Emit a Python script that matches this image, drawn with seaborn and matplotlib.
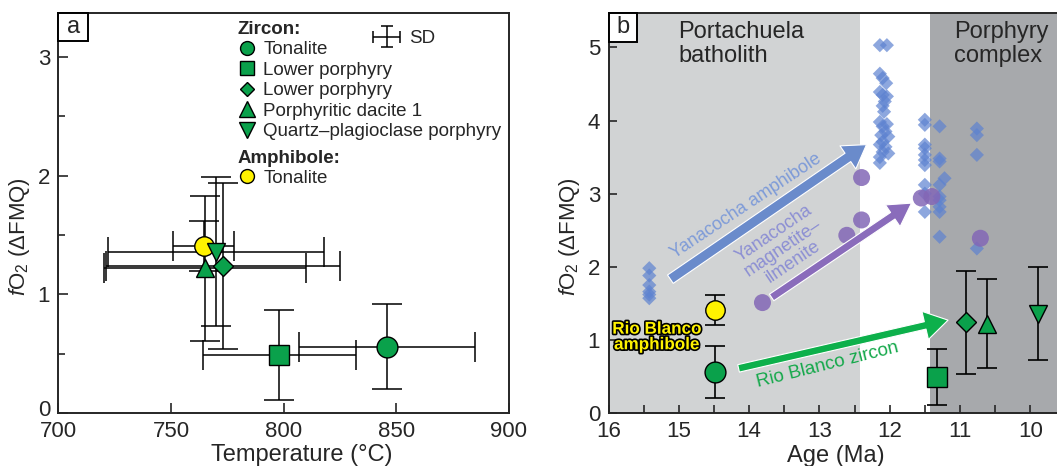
import numpy as np
import matplotlib
matplotlib.use("Agg")
import matplotlib.pyplot as plt
import matplotlib.transforms as mtransforms
import seaborn as sns
import pandas as pd
from matplotlib.patches import Rectangle
from matplotlib.lines import Line2D
from matplotlib.container import ErrorbarContainer
from matplotlib.legend_handler import HandlerErrorbar
import matplotlib.patheffects as pe

# ---------------- data ----------------
# Rio Blanco samples (zircon x5, amphibole x1)
sample_labels = ["Tonalite", "Lower porphyry", "Lower porphyry", "Porphyritic dacite 1",
                 "Quartz\u2013plagioclase porphyry", "Tonalite"]
temp_c = [846, 798, 773, 765, 770, 764.5]
temp_sd = [39, 34, 52, 45, 48, 13.5]
fo2 = [0.56, 0.49, 1.24, 1.22, 1.36, 1.41]
fo2_sd = [0.36, 0.38, 0.70, 0.61, 0.63, 0.21]
age_ma = [14.49, 11.32, 10.91, 10.61, 9.89, 14.49]

# Yanacocha amphibole (diamonds)
yan_amph_age = [15.42, 15.42, 15.42, 15.42, 15.42, 15.42,
                12.14, 12.04, 12.14, 12.10, 12.05, 12.14, 12.10, 12.04, 12.07, 12.10,
                12.08, 12.14, 12.04, 12.10, 12.06, 12.12, 12.02, 12.10, 12.14, 12.06,
                12.10, 12.02, 12.14, 12.14,
                11.50, 11.50, 11.50, 11.50, 11.50, 11.50, 11.50, 11.50, 11.50, 11.50,
                11.29, 11.29, 11.29, 11.22, 11.29, 11.29, 11.29, 11.29, 11.29, 11.29,
                10.76, 10.76, 10.76, 10.76]
yan_amph_fo2 = [1.98, 1.88, 1.75, 1.66, 1.62, 1.57,
                5.03, 5.03, 4.64, 4.58, 4.51, 4.39, 4.35, 4.33, 4.26, 4.20,
                4.12, 3.98, 3.95, 3.92, 3.85, 3.80, 3.78, 3.71, 3.67, 3.64,
                3.57, 3.55, 3.50, 3.42,
                4.01, 3.94, 3.67, 3.62, 3.53, 3.46, 3.39, 3.12, 3.00, 2.75,
                3.92, 3.48, 3.44, 3.21, 3.12, 2.96, 2.91, 2.82, 2.75, 2.41,
                3.89, 3.80, 3.53, 2.25]

# Yanacocha magnetite-ilmenite (circles)
yan_mi_age = [13.81, 12.61, 12.40, 12.40, 11.55, 11.40, 10.71]
yan_mi_fo2 = [1.51, 2.43, 2.64, 3.22, 2.94, 2.96, 2.39]

# trend arrows (tail age, tail fO2, tip age, tip fO2)
arrow_yan_amph = (15.12, 1.83, 12.33, 3.67)
arrow_yan_mi = (13.68, 1.58, 11.69, 2.87)
arrow_rb_zircon = (14.15, 0.61, 11.17, 1.27)

# age windows
batholith_span = (16.0, 12.42)
porphyry_span = (11.42, 9.0)

# ---------------- style ----------------
sns.set_theme(style="ticks")
plt.rcParams["font.family"] = ["Liberation Sans", "DejaVu Sans"]
plt.rcParams["mathtext.fontset"] = "custom"
plt.rcParams["mathtext.rm"] = "Liberation Sans"
plt.rcParams["mathtext.it"] = "Liberation Sans:italic"
plt.rcParams["axes.linewidth"] = 1.4

GREEN = "#0aa14b"
YELLOW = "#fff200"
markers = ["o", "s", "D", "^", "v", "o"]
msizes = [15, 14.5, 10.5, 13, 13, 14]
fills = [GREEN] * 5 + [YELLOW]

fig = plt.figure(figsize=(10.57, 4.66), dpi=100)
ax1 = fig.add_axes([0.0553, 0.1137, 0.4262, 0.8584])
ax2 = fig.add_axes([0.5757, 0.1137, 0.4243, 0.8584])

ylab = r"$f$O$_2$ ($\Delta$FMQ)"
TICK_FS = 16
LABEL_FS = 17

# ---------------- panel a ----------------
for i in range(len(temp_c)):
    ax1.errorbar(temp_c[i], fo2[i], xerr=temp_sd[i], yerr=fo2_sd[i], fmt="none",
                 ecolor="black", elinewidth=1.1, capsize=10.5, capthick=1.1, zorder=2)
order_a = [0, 1, 5, 3, 4, 2]
for i in order_a:
    ax1.plot(temp_c[i], fo2[i], marker=markers[i], ms=msizes[i], mfc=fills[i],
             mec="black", mew=1.0, ls="none", zorder=3)

ax1.set_xlim(700, 900)
ax1.set_ylim(0, 3.37)
ax1.set_xticks([700, 750, 800, 850, 900])
ax1.set_yticks([0, 1, 2, 3])
ax1.set_yticks([0.5, 1.5, 2.5], minor=True)
ax1.tick_params(axis="both", which="major", direction="in", length=7, width=1.2,
                labelsize=TICK_FS, pad=6, top=False, right=False)
ax1.tick_params(axis="y", which="minor", direction="in", length=5, width=1.2)
ax1.set_xlabel("Temperature (\u00b0C)", fontsize=LABEL_FS)
ax1.set_ylabel(ylab, fontsize=TICK_FS)
ax1.xaxis.set_label_coords(0.54, -0.078)
ax1.yaxis.set_label_coords(-0.058, 0.44)
# the "0" label sits slightly above the corner, as in the original
zero_lbl = ax1.get_yticklabels()[0]
zero_lbl.set_transform(zero_lbl.get_transform() +
                       mtransforms.ScaledTranslation(0, 5 / 100, fig.dpi_scale_trans))

ax1.add_patch(Rectangle((0, 1), 0.0666, -0.07, transform=ax1.transAxes, fc="white",
                        ec="black", lw=1.4, zorder=5, clip_on=False))
ax1.text(0.0333, 1 - 0.035, "a", transform=ax1.transAxes, ha="center", va="center",
         fontsize=17, zorder=6)

# legends
LEG_FS = 13.5
leg_ms = [10, 10, 7.2, 11, 11]
zircon_handles = [Line2D([], [], marker=markers[i], ls="none", ms=leg_ms[i], mfc=GREEN,
                         mec="black", mew=1.0) for i in range(5)]
leg1 = ax1.legend(zircon_handles, sample_labels[:5], title="Zircon:", loc="upper left",
                  bbox_to_anchor=(0.39, 0.99), frameon=False, fontsize=LEG_FS,
                  title_fontproperties={"weight": "bold", "size": LEG_FS},
                  alignment="left", handlelength=0.95, handletextpad=0.4,
                  labelspacing=0.18, borderpad=0.2, borderaxespad=0)
ax1.add_artist(leg1)
amph_handle = Line2D([], [], marker="o", ls="none", ms=10, mfc=YELLOW, mec="black", mew=1.0)
leg2 = ax1.legend([amph_handle], [sample_labels[5]], title="Amphibole:", loc="upper left",
                  bbox_to_anchor=(0.39, 0.668), frameon=False, fontsize=LEG_FS,
                  title_fontproperties={"weight": "bold", "size": LEG_FS},
                  alignment="left", handlelength=0.95, handletextpad=0.4,
                  labelspacing=0.18, borderpad=0.2, borderaxespad=0)
ax1.add_artist(leg2)
sd = ax1.errorbar([np.nan], [np.nan], xerr=[1], yerr=[1], fmt="none", ecolor="black",
                  elinewidth=1.1, capsize=4, capthick=1.1)
leg3 = ax1.legend([sd], ["SD"], loc="upper left", bbox_to_anchor=(0.69, 0.967),
                  frameon=False, fontsize=LEG_FS, handlelength=1.45, handletextpad=0.5,
                  borderpad=0.2, borderaxespad=0,
                  handler_map={ErrorbarContainer: HandlerErrorbar(xerr_size=0.72, yerr_size=0.58)})

# ---------------- panel b ----------------
ax2.axvspan(*batholith_span, color="#d1d3d4", lw=0, zorder=0)
ax2.axvspan(*porphyry_span, color="#a7a9ac", lw=0, zorder=0)

amph_df = pd.DataFrame({"age": yan_amph_age, "fo2": yan_amph_fo2})
mi_df = pd.DataFrame({"age": yan_mi_age, "fo2": yan_mi_fo2})
sns.scatterplot(data=amph_df, x="age", y="fo2", marker="D", s=52, color="#5d82d0",
                alpha=0.7, edgecolor="none", ax=ax2, zorder=2)
sns.scatterplot(data=mi_df, x="age", y="fo2", marker="o", s=150, color="#8367b6",
                alpha=0.85, edgecolor="none", ax=ax2, zorder=2.5)


def trend_arrow(a, color, tail_w, head_w, head_l, ms):
    ax2.annotate("", xy=(a[2], a[3]), xytext=(a[0], a[1]),
                 arrowprops=dict(arrowstyle=f"simple,head_length={head_l},head_width={head_w},tail_width={tail_w}",
                                 fc=color, ec="white", lw=0.8, mutation_scale=ms,
                                 shrinkA=0, shrinkB=0), zorder=3)


trend_arrow(arrow_yan_amph, "#6a8bcb", 0.56, 1.55, 1.25, 13)
trend_arrow(arrow_yan_mi, "#8a6cbb", 0.44, 1.45, 1.25, 13)
trend_arrow(arrow_rb_zircon, "#0db04b", 0.42, 1.6, 1.3, 13)

ax2.text(14.05, 2.83, "Yanacocha amphibole", rotation=33.5, ha="center", va="center",
         rotation_mode="anchor", fontsize=13, color="#7e9bd8", zorder=4)
ax2.text(13.51, 2.26, "Yanacocha\nmagnetite\u2013\nilmenite", rotation=34, ha="center",
         va="center", rotation_mode="anchor", fontsize=13, color="#8c8fd3",
         linespacing=1.0, zorder=4)
ax2.text(12.88, 0.66, "Rio Blanco zircon", rotation=14, ha="center", va="center",
         rotation_mode="anchor", fontsize=13.5, color="#14a84a", zorder=4)
ax2.text(15.31, 1.04, "Rio Blanco\namphibole", ha="center", va="center", fontsize=12.3,
         fontweight="bold", color=YELLOW, linespacing=1.05, zorder=4,
         path_effects=[pe.withStroke(linewidth=2.4, foreground="black")])

for i in range(len(age_ma)):
    ax2.errorbar(age_ma[i], fo2[i], yerr=fo2_sd[i], fmt="none", ecolor="black",
                 elinewidth=1.2, capsize=7.5, capthick=1.2, zorder=5)
    ax2.plot(age_ma[i], fo2[i], marker=markers[i], ms=msizes[i], mfc=fills[i],
             mec="black", mew=1.0, ls="none", zorder=6)

ax2.text(15.01, 5.36, "Portachuela\nbatholith", ha="left", va="top", fontsize=17,
         linespacing=1.12, zorder=4)
ax2.text(11.08, 5.36, "Porphyry\ncomplex", ha="left", va="top", fontsize=17,
         linespacing=1.12, zorder=4)

ax2.set_xlim(16, 9.62)
ax2.set_ylim(0, 5.47)
ax2.set_xticks([16, 15, 14, 13, 12, 11, 10])
ax2.set_xticks(np.arange(15.5, 9.6, -1.0), minor=True)
ax2.set_yticks([0, 1, 2, 3, 4, 5])
ax2.tick_params(axis="both", which="major", direction="in", length=6, width=1.2,
                labelsize=TICK_FS, pad=6, top=False, right=False)
ax2.tick_params(axis="x", which="minor", direction="in", length=6, width=1.2)
ax2.spines["right"].set_visible(False)
ax2.set_xlabel("Age (Ma)", fontsize=LABEL_FS)
ax2.set_ylabel(ylab, fontsize=TICK_FS)
ax2.xaxis.set_label_coords(0.507, -0.08)
ax2.yaxis.set_label_coords(-0.06, 0.44)

ax2.add_patch(Rectangle((0, 1), 0.0624, -0.072, transform=ax2.transAxes, fc="white",
                        ec="black", lw=1.4, zorder=7, clip_on=False))
ax2.text(0.0312, 1 - 0.036, "b", transform=ax2.transAxes, ha="center", va="center",
         fontsize=17, zorder=8)

fig.savefig("out.png", dpi=100)
